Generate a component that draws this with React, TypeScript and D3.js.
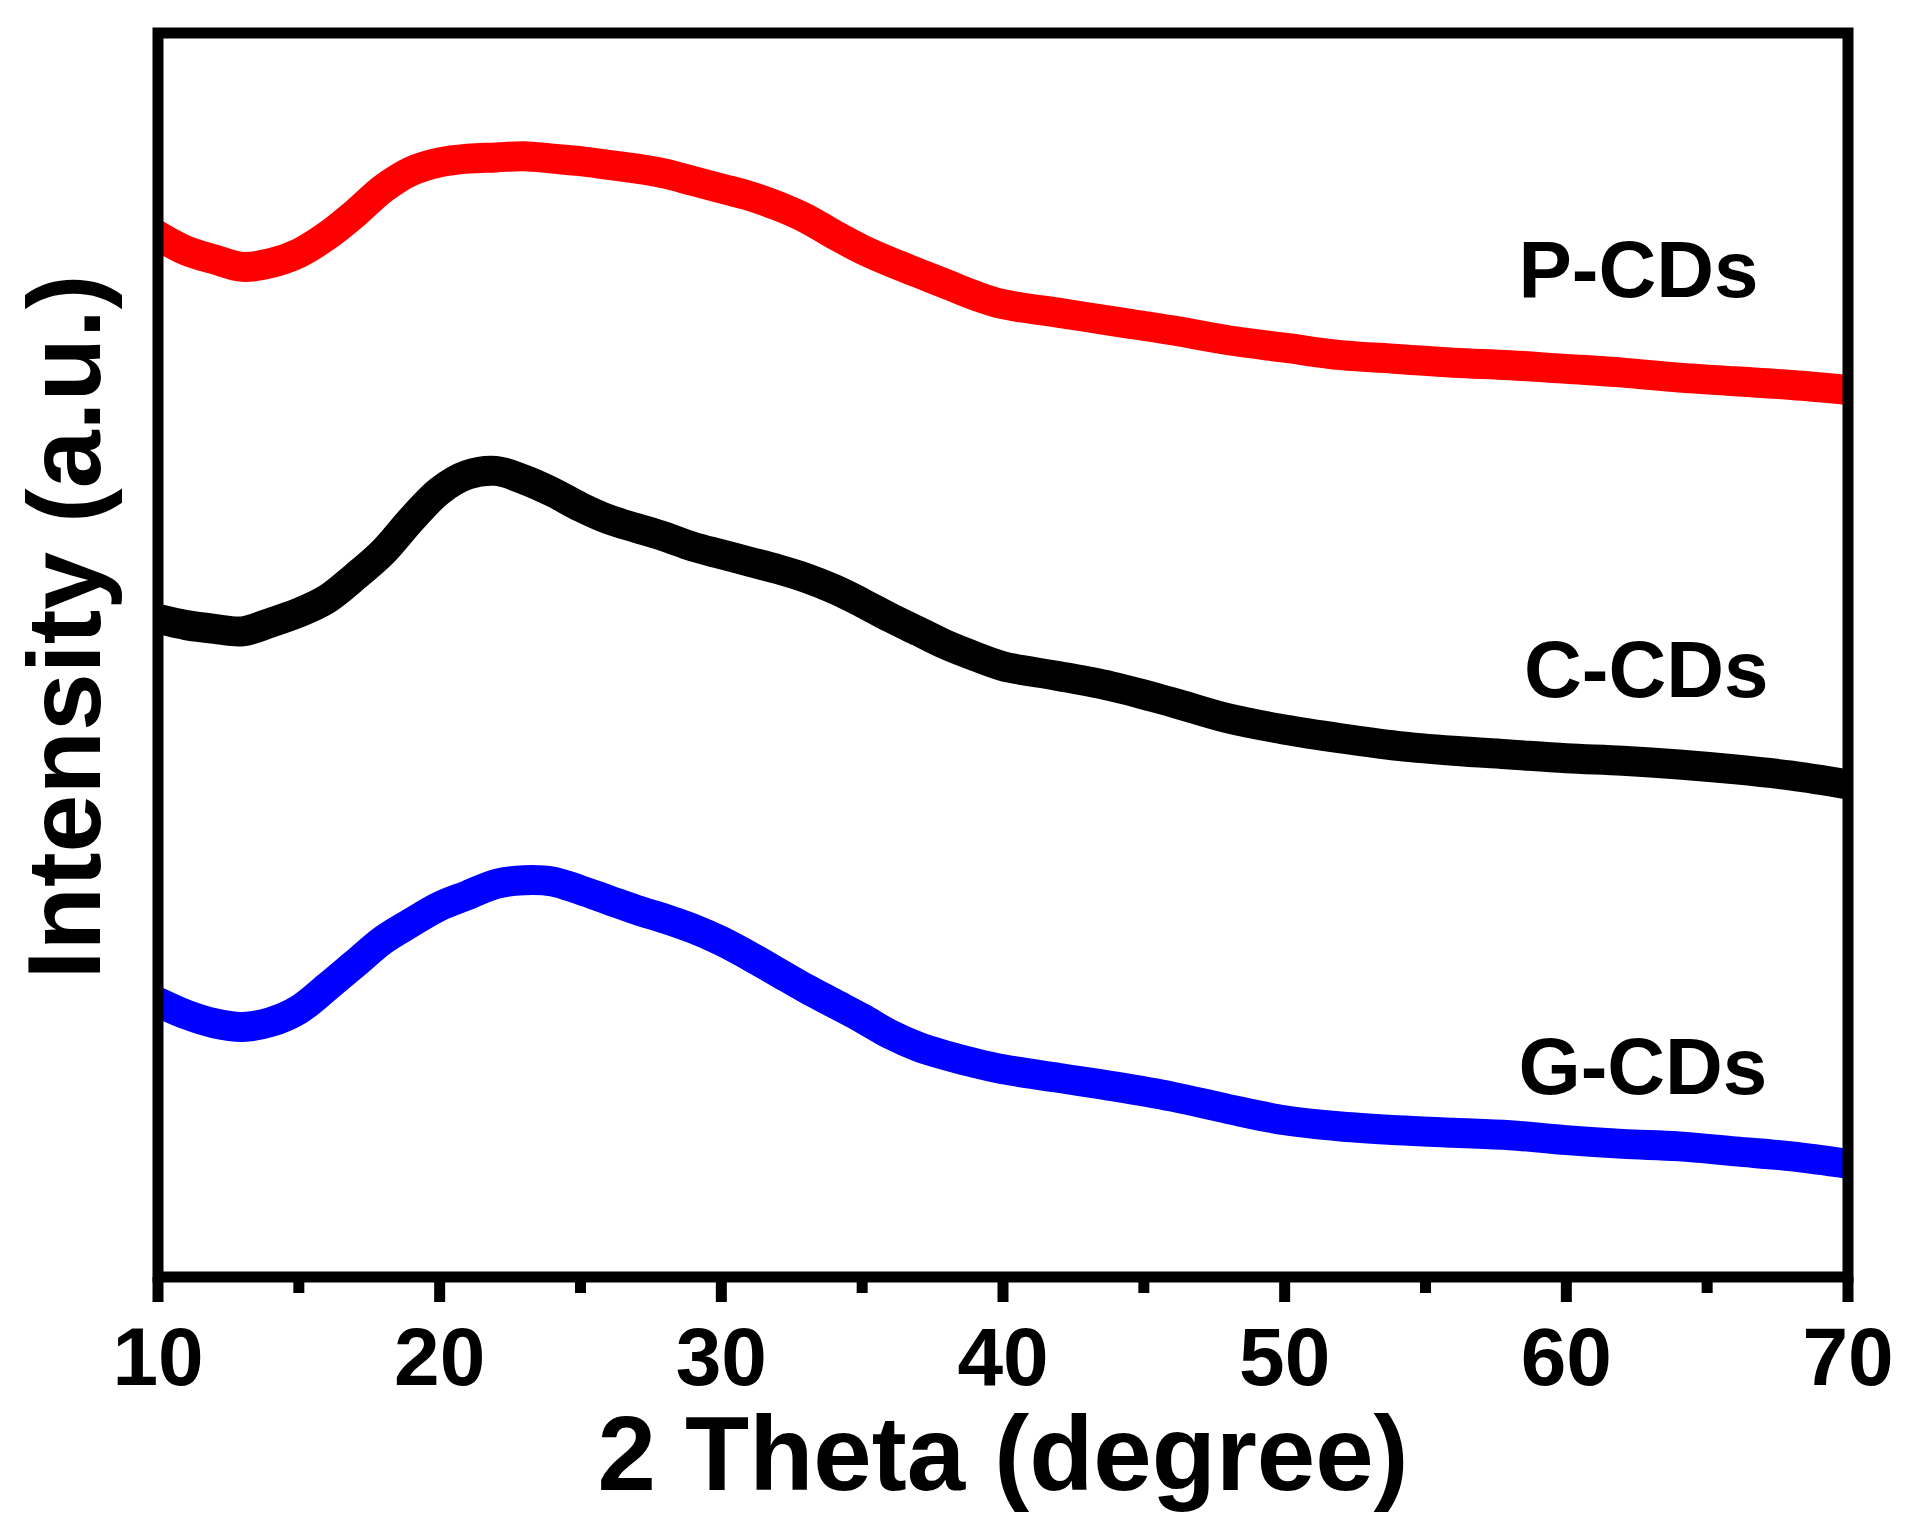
import React from "react";
import * as d3 from "d3";

// 2θ positions (degree) at which the traces were read
const twoTheta = [10, 11, 12, 13, 14, 15, 16, 17, 18, 19, 20, 21, 22, 23, 24, 25, 26, 27, 28, 29, 30, 31, 32, 33, 34, 35, 36, 37, 38, 39, 40, 42, 44, 46, 48, 50, 52, 54, 56, 58, 60, 62, 64, 66, 68, 70];

// intensities (a.u., offset stacked)
const pCDs = [83.7, 82.5, 81.8, 81.2, 81.5, 82.3, 83.7, 85.5, 87.5, 88.9, 89.6, 89.9, 90.0, 90.1, 89.9, 89.7, 89.4, 89.1, 88.7, 88.1, 87.5, 86.9, 86.1, 85.1, 83.8, 82.6, 81.6, 80.7, 79.8, 78.9, 78.2, 77.5, 76.8, 76.1, 75.3, 74.7, 74.1, 73.8, 73.5, 73.3, 73.0, 72.7, 72.3, 72.0, 71.7, 71.3];
const cCDs = [52.9, 52.4, 52.1, 51.9, 52.6, 53.4, 54.5, 56.3, 58.3, 60.9, 63.2, 64.5, 64.8, 64.1, 63.1, 61.9, 60.9, 60.2, 59.5, 58.7, 58.1, 57.5, 56.9, 56.2, 55.3, 54.2, 53.0, 51.9, 50.8, 49.9, 49.1, 48.3, 47.4, 46.2, 44.9, 44.0, 43.3, 42.7, 42.3, 42.0, 41.7, 41.5, 41.2, 40.8, 40.3, 39.6];
const gCDs = [22.1, 21.1, 20.4, 20.1, 20.5, 21.5, 23.3, 25.2, 27.1, 28.5, 29.8, 30.7, 31.6, 31.9, 31.8, 31.1, 30.3, 29.5, 28.8, 28.0, 27.0, 25.8, 24.5, 23.2, 22.0, 20.8, 19.5, 18.5, 17.8, 17.2, 16.7, 16.0, 15.3, 14.5, 13.5, 12.6, 12.1, 11.8, 11.6, 11.4, 11.0, 10.7, 10.5, 10.1, 9.7, 9.1];

const seriesNames = ["P-CDs", "C-CDs", "G-CDs"];
const seriesColors = ["#ff0000", "#000000", "#0000ff"];
const seriesValues = [pCDs, cCDs, gCDs];
// label anchor position in data units (2θ, intensity)
const labelX = [58.3, 58.5, 58.3];
const labelY = [78.8, 46.6, 14.7];

const majorTicks = [10, 20, 30, 40, 50, 60, 70];
const minorTicks = [15, 25, 35, 45, 55, 65];

const W = 1907;
const H = 1533;
const left = 158;
const right = 1848;
const top = 33;
const bottom = 1277;
const FONT = "'Liberation Sans', Arial, Helvetica, sans-serif";

export default function App() {
  const x = d3.scaleLinear().domain([10, 70]).range([left, right]);
  const y = d3.scaleLinear().domain([0, 100]).range([bottom, top]);

  const line = d3
    .line<number>()
    .x((_, i) => x(twoTheta[i]))
    .y((v) => y(v))
    .curve(d3.curveCatmullRom.alpha(0.5));

  return (
    <svg
      width={W}
      height={H}
      viewBox={`0 0 ${W} ${H}`}
      style={{ position: "absolute", left: 0, top: 0, background: "#fff" }}
    >
      <defs>
        <clipPath id="plotClip">
          <rect x={left} y={top} width={right - left} height={bottom - top} />
        </clipPath>
      </defs>
      <rect x={0} y={0} width={W} height={H} fill="#fff" />
      <g clipPath="url(#plotClip)">
        {seriesValues.map((vals, k) => (
          <path
            key={seriesNames[k]}
            d={line(vals) || ""}
            fill="none"
            stroke={seriesColors[k]}
            strokeWidth={30}
            strokeLinejoin="round"
            strokeLinecap="square"
          />
        ))}
      </g>
      {seriesNames.map((n, k) => (
        <text
          key={n}
          x={x(labelX[k])}
          y={y(labelY[k])}
          fontFamily={FONT}
          fontWeight="bold"
          fontSize={80}
          fill="#000"
        >
          {n}
        </text>
      ))}
      {/* frame */}
      <rect
        x={left}
        y={top}
        width={right - left}
        height={bottom - top}
        fill="none"
        stroke="#000"
        strokeWidth={11}
      />
      {/* ticks */}
      {majorTicks.map((t) => (
        <line key={"M" + t} x1={x(t)} x2={x(t)} y1={bottom} y2={bottom + 25} stroke="#000" strokeWidth={11} />
      ))}
      {minorTicks.map((t) => (
        <line key={"m" + t} x1={x(t)} x2={x(t)} y1={bottom} y2={bottom + 16} stroke="#000" strokeWidth={11} />
      ))}
      {majorTicks.map((t) => (
        <text
          key={"l" + t}
          x={x(t)}
          y={1385}
          textAnchor="middle"
          fontFamily={FONT}
          fontWeight="bold"
          fontSize={82}
          fill="#000"
        >
          {t}
        </text>
      ))}
      <text
        x={(left + right) / 2}
        y={1490}
        textAnchor="middle"
        fontFamily={FONT}
        fontWeight="bold"
        fontSize={105}
        fill="#000"
      >
        2 Theta (degree)
      </text>
      <text
        transform={`translate(100, ${627}) rotate(-90)`}
        textAnchor="middle"
        fontFamily={FONT}
        fontWeight="bold"
        fontSize={104}
        fill="#000"
      >
        Intensity (a.u.)
      </text>
    </svg>
  );
}
